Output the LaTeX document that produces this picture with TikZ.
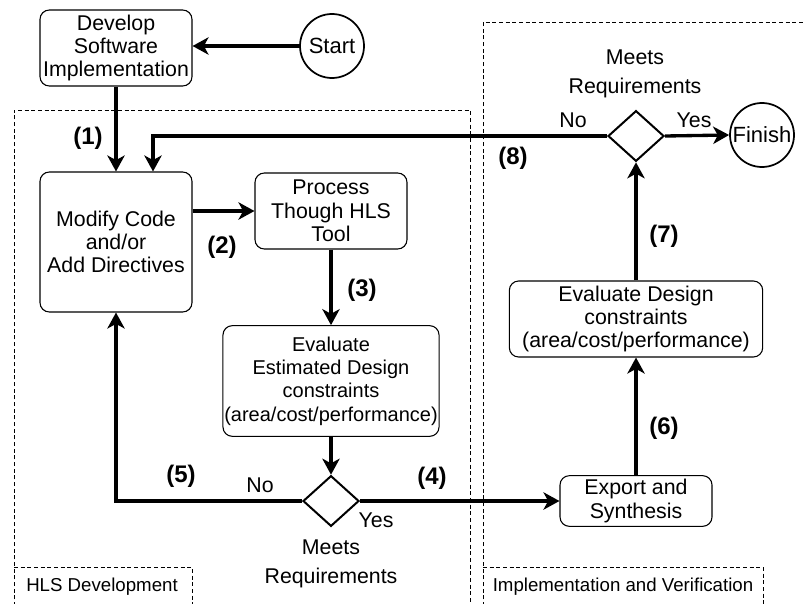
\documentclass[tikz,border=0pt]{standalone}
\usepackage{fontspec}
\setmainfont{Liberation Sans}
\usetikzlibrary{positioning, calc, shapes.geometric, arrows.meta}
\tikzset{
    step box/.style={rectangle, rounded corners=7pt, draw, line width=0.8pt, align=center, inner sep=1pt, font=\fontsize{16}{17.5}\selectfont},
    small box/.style={step box, font=\fontsize{15}{17.5}\selectfont},
    term node/.style={circle, draw, line width=1.3pt, minimum size=48pt, inner sep=0pt, font=\fontsize{16.5}{18}\selectfont},
    decision node/.style={diamond, draw, line width=1.5pt, minimum width=42pt, minimum height=38pt, inner sep=0pt},
    flow arrow/.style={-{Stealth[length=12pt, width=13pt, inset=3.5pt]}, line width=2.5pt},
    step label/.style={font=\fontsize{18}{20}\selectfont\bfseries},
    edge label/.style={font=\fontsize{16}{18}\selectfont},
    region line/.style={dashed, dash pattern=on 3pt off 2pt, line width=0.7pt},
    region label/.style={font=\fontsize{14}{16}\selectfont},
}

\begin{document}
\begin{tikzpicture}[x=0.75pt, y=-0.75pt]
    \useasboundingbox (0,0) rectangle (805,603);

    % dashed regions
    \draw[region line] (14,606) -- (14,110) -- (470,110) -- (470,606);
    \draw[region line] (14,567) -- (192,567) -- (192,606);
    \node[region label] (hlslabel) at (102,587) {HLS Development};
    \draw[region line] (483,606) -- (483,22) -- (808,22);
    \draw[region line] (483,567) -- (763,567) -- (763,606);
    \node[region label] (impllabel) at (623,587) {Implementation and Verification};

    % nodes
    \node[step box, minimum width=114pt, minimum height=57pt] (develop) at (116,48) {Develop\\Software\\Implementation};
    \node[term node] (start) at (332,46) {Start};
    \node[step box, minimum width=114pt, minimum height=105pt] (modify) at (116,242) {Modify Code\\and/or\\Add Directives};
    \node[step box, minimum width=114pt, minimum height=57pt] (process) at (331,211) {Process\\Though HLS\\Tool};
    \node[small box, minimum width=161pt, minimum height=83pt] (estimate) at (331,381) {Evaluate\\Estimated Design\\constraints\\(area/cost/performance)};
    \node[decision node] (check1) at (331,501) {};
    \node[step box, minimum width=114pt, minimum height=38pt] (export) at (636,501) {Export and\\Synthesis};
    \node[step box, minimum width=190pt, minimum height=57pt] (evaluate) at (636,319) {Evaluate Design\\constraints\\(area/cost/performance)};
    \node[decision node] (check2) at (636,136) {};
    \node[term node] (finish) at (762,135) {Finish};

    % decision texts
    \node[edge label, align=center] (meets1) at (331,564) {Meets\\[4pt]Requirements};
    \node[edge label, align=center] (meets2) at (635,74) {Meets\\[4pt]Requirements};
    \node[edge label] (no1) at (260,485) {No};
    \node[edge label] (yes1) at (376,520) {Yes};
    \node[edge label] (no2) at (573,120) {No};
    \node[edge label] (yes2) at (694,120) {Yes};

    % connectors
    \draw[flow arrow] (start.west) -- (start.west -| develop.east);
    \draw[flow arrow] (develop.south) -- (modify.north);
    \draw[flow arrow] (modify.east |- process) -- (process.west);
    \draw[flow arrow] (process.south) -- (estimate.north);
    \draw[flow arrow] (estimate.south) -- (check1.north);
    \draw[flow arrow] (check1.west) -| (modify.south);
    \draw[flow arrow] (check1.east) -- (export.west);
    \draw[flow arrow] (export.north) -- (evaluate.south);
    \draw[flow arrow] (evaluate.north) -- (check2.south);
    \draw[flow arrow] (check2.east) -- (finish.west);
    \draw[flow arrow] (check2.west) -| ($(modify.north)+(37,0)$);

    % step numbers
    \node[step label] (n1) at (88,138) {(1)};
    \node[step label] (n2) at (222,247) {(2)};
    \node[step label] (n3) at (362,290) {(3)};
    \node[step label] (n4) at (432,478) {(4)};
    \node[step label] (n5) at (181,476) {(5)};
    \node[step label] (n6) at (664,428) {(6)};
    \node[step label] (n7) at (664,236) {(7)};
    \node[step label] (n8) at (513,158) {(8)};
\end{tikzpicture}
\end{document}
